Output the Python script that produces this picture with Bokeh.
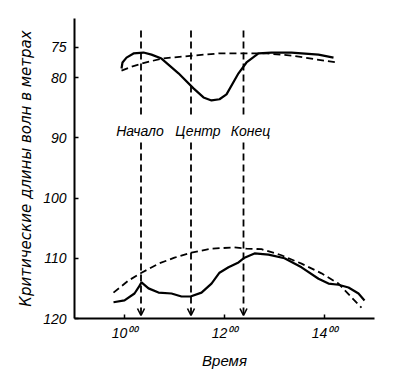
from bokeh.plotting import figure
from bokeh.models import Range1d, FixedTicker, Arrow, OpenHead
from bokeh.embed import file_html
from bokeh.resources import INLINE
from bokeh.core.properties import value

# Time in hours, critical wavelength in metres
upper_solid_t = [9.94, 9.96, 10.04, 10.18, 10.38, 10.54, 10.74, 11.08, 11.38, 11.58, 11.74,
                 11.90, 12.04, 12.28, 12.44, 12.68, 12.94, 13.34, 13.88, 14.18]
upper_solid_v = [78.5, 77.5, 76.7, 76.0, 75.85, 76.2, 76.85, 79.3, 81.8, 83.3, 83.8,
                 83.6, 82.8, 79.3, 77.5, 76.0, 75.85, 75.85, 76.2, 76.7]

upper_dash_t = [9.94, 10.14, 10.34, 10.74, 11.38, 11.88, 12.40, 12.84, 13.34, 13.84, 14.24]
upper_dash_v = [78.85, 78.2, 77.7, 76.85, 76.35, 76.0, 76.0, 76.0, 76.35, 77.0, 77.5]

lower_solid_t = [9.78, 10.0, 10.2, 10.28, 10.34, 10.48, 10.68, 10.94, 11.14, 11.32, 11.54,
                 11.74, 11.90, 12.08, 12.28, 12.40, 12.60, 12.88, 13.20, 13.54, 13.88,
                 14.08, 14.28, 14.48, 14.68, 14.80]
lower_solid_v = [117.3, 117.0, 115.85, 114.85, 114.0, 115.0, 115.7, 115.85, 116.35, 116.35, 115.7,
                 114.2, 112.4, 111.5, 110.7, 109.9, 109.2, 109.4, 110.0, 111.5, 113.4,
                 114.2, 114.4, 114.85, 115.85, 117.0]

lower_dash_t = [9.78, 10.08, 10.34, 10.68, 11.0, 11.34, 11.74, 12.2, 12.44, 12.74, 13.14,
                13.54, 13.94, 14.28, 14.54, 14.74]
lower_dash_v = [115.7, 113.7, 112.4, 110.9, 109.9, 109.05, 108.4, 108.2, 108.4, 108.5, 109.5,
                110.9, 112.5, 114.2, 116.5, 118.2]

event_t = [10.33, 11.33, 12.38]
event_names = ["Начало", "Центр", "Конец"]

x_ticks = [10, 12, 14]
x_tick_labels = ["10⁰⁰", "12⁰⁰", "14⁰⁰"]
y_ticks = [75, 80, 90, 100, 110, 120]

FONT = "Liberation Sans"

p = figure(frame_width=300, frame_height=300, width=392, height=370,
           x_range=Range1d(9.0, 15.0), y_range=Range1d(120.0, 70.2),
           output_backend="svg", toolbar_location=None,
           min_border_left=74, min_border_top=18, min_border_right=18, min_border_bottom=52)

p.grid.visible = False
p.outline_line_color = None
p.background_fill_color = "white"
p.border_fill_color = "white"

# curves
p.line(upper_solid_t, upper_solid_v, line_color="black", line_width=2.2)
p.line(upper_dash_t, upper_dash_v, line_color="black", line_width=1.8, line_dash="7 4")
p.line(lower_solid_t, lower_solid_v, line_color="black", line_width=2.2)
p.line(lower_dash_t, lower_dash_v, line_color="black", line_width=1.8, line_dash="7 4")

# event markers: dashed verticals, broken around the labels, ending in arrows
p.segment(x0=event_t, y0=[72.2] * 3, x1=event_t, y1=[86.6] * 3,
          line_color="black", line_width=1.8, line_dash="7 4")
for t in event_t:
    p.add_layout(Arrow(x_start=t, y_start=90.8, x_end=t, y_end=119.5,
                       line_color="black", line_width=1.8, line_dash="7 4",
                       end=OpenHead(size=7, line_width=1.6, line_color="black")))

for t, name, dx in zip(event_t, event_names, [-1, 7, 7]):
    p.text(x=[t], y=[88.8], text=[name], x_offset=dx,
           text_align="center", text_baseline="middle", text_font=value(FONT),
           text_font_style="italic", text_font_size="14px", text_color="black")

# axes
for ax in (p.xaxis[0], p.yaxis[0]):
    ax.axis_line_color = "black"
    ax.axis_line_width = 2
    ax.major_tick_line_color = "black"
    ax.major_tick_line_width = 1.5
    ax.major_tick_in = 4
    ax.major_tick_out = 0
    ax.minor_tick_line_color = None
    ax.major_label_text_font = FONT
    ax.major_label_text_font_style = "italic"
    ax.major_label_text_color = "black"
    ax.axis_label_text_font_style = "italic"
    ax.axis_label_text_color = "black"

p.xaxis.ticker = FixedTicker(ticks=x_ticks)
p.xaxis.major_label_overrides = {t: s for t, s in zip(x_ticks, x_tick_labels)}
p.xaxis.major_label_text_font_size = "14px"
p.xaxis.major_label_standoff = 6
p.xaxis.axis_label = "Время"
p.xaxis.axis_label_text_font = FONT
p.xaxis.axis_label_text_font_size = "15px"
p.xaxis.axis_label_standoff = 8

p.yaxis.ticker = FixedTicker(ticks=y_ticks)
p.yaxis.major_label_text_font_size = "14px"
p.yaxis.major_label_standoff = 8
p.yaxis.axis_label = "Критические длины волн в метрах"
p.yaxis.axis_label_text_font = "DejaVu Sans"
p.yaxis.axis_label_text_font_size = "15px"
p.yaxis.axis_label_standoff = 5

open("out.html", "w").write(file_html(p, INLINE))
